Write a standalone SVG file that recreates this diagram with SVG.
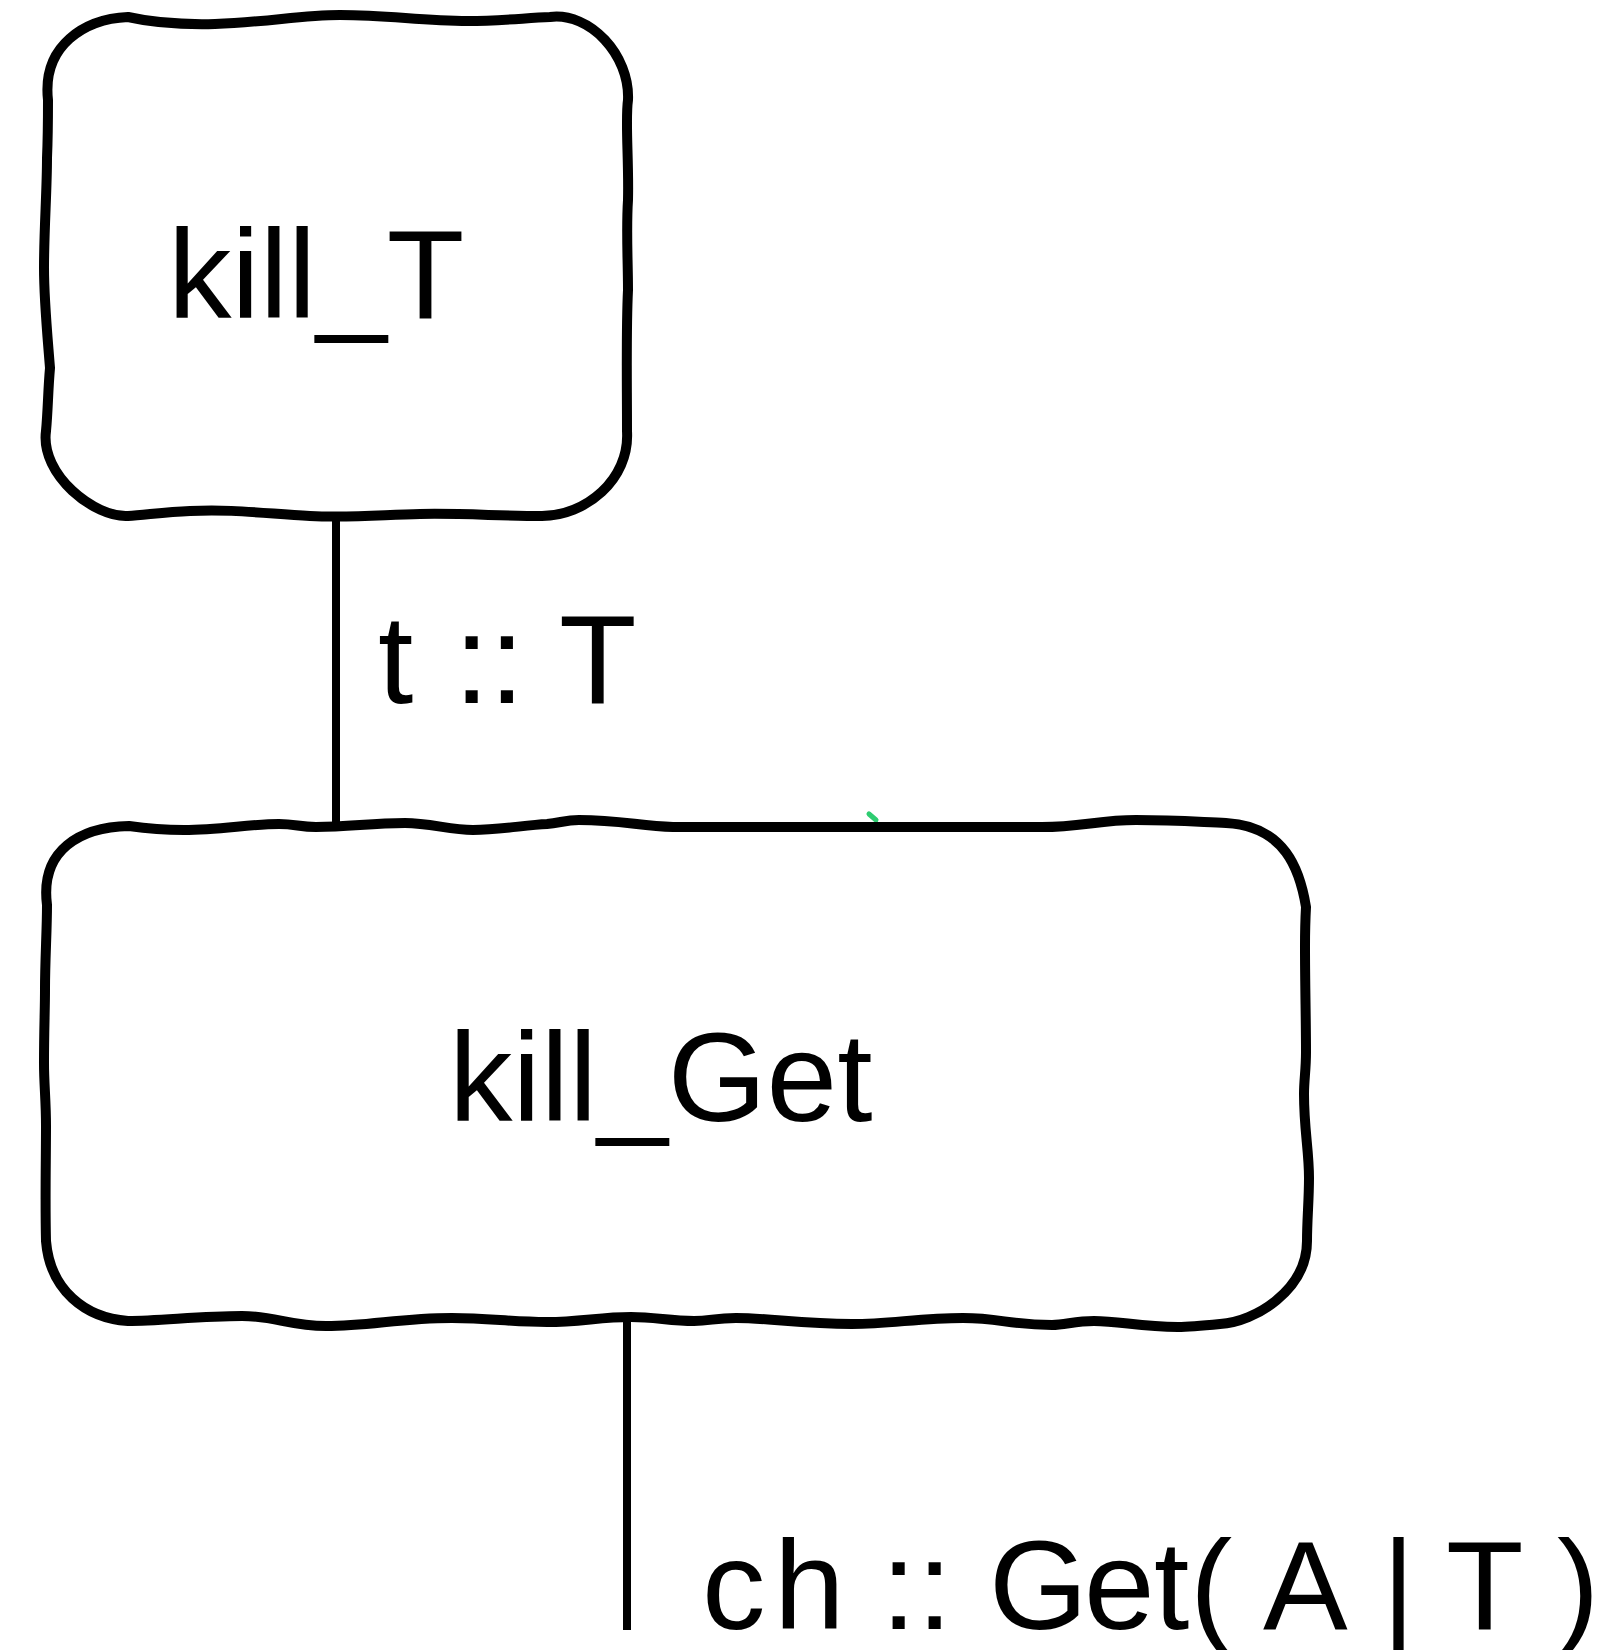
<svg xmlns="http://www.w3.org/2000/svg" width="1615" height="1650" viewBox="0 0 1615 1650">
<style>
.box{fill:#ffffff;stroke:#000000;stroke-width:10;stroke-linejoin:round;stroke-linecap:round}
.edge{stroke:#000000;stroke-width:8;fill:none}
.lbl{font-family:"Liberation Sans",Arial,Helvetica,sans-serif;font-size:127px;fill:#000000}
</style>
<rect width="1615" height="1650" fill="#ffffff"/>
<g id="connectors">
<line class="edge" x1="336" y1="510" x2="336" y2="828"/>
<line class="edge" x1="627" y1="1318" x2="627" y2="1630"/>
<line x1="869" y1="814" x2="876" y2="820" stroke="#2ecc71" stroke-width="5" stroke-linecap="round"/>
<text class="lbl" x="378" y="703">t <tspan x="454">:: </tspan><tspan x="559">T</tspan></text>
<text class="lbl" x="702 774 844 881 917 952 989 1084 1154 1190 1232 1263 1348 1382 1415 1446 1524 1557" y="1629">ch :: Get( A | T )</text>
</g>
<g id="kill_T">
<path class="box" d="M48,100 C42,45 85,19 128,17 C150,22 175,25 215,24 C270,22 300,15 340,15 C390,15 420,21 468,21 C500,21 525,18 550,17 C590,12 630,55 628,100 C625,120 629,160 628,200 C626,230 628,260 628,290 C626,330 627,380 627,431 C630,480 585,516 542,516 C500,516 460,513 420,514 C380,515 350,518 310,516 C260,513 230,509 190,511 C165,512 145,515 128,516 C95,518 40,475 46,431 C48,410 48,390 50,368 C47,330 44,300 44,268 C44,230 47,190 47,158 C48,135 48,115 48,100 Z"/>
<text class="lbl" x="168" y="318">kill_T</text>
</g>
<g id="kill_Get">
<path class="box" d="M47,905 C40,850 80,827 129,826 C150,829 165,830 184,830 C220,830 250,824 279,824 C295,824 300,827 316,827 C350,827 370,823 405,823 C430,823 450,830 473,830 C500,830 525,825 547,824 C560,823 565,820 579,820 C620,820 640,826 673,827 L1042,827 C1080,827 1100,820 1136,820 C1175,820 1200,822 1226,823 C1285,826 1300,870 1306,907 C1305,925 1305,935 1305,947 C1305,985 1306,1020 1306,1052 C1306,1070 1304,1080 1304,1094 C1304,1130 1309,1150 1309,1178 C1309,1200 1307,1220 1307,1241 C1307,1290 1255,1322 1220,1324 C1200,1326 1190,1327 1178,1327 C1140,1327 1120,1321 1094,1321 C1075,1321 1065,1325 1052,1325 C1010,1325 1000,1318 963,1318 C920,1318 890,1324 852,1324 C800,1324 770,1318 736,1318 C715,1318 710,1321 694,1321 C670,1321 655,1317 631,1317 C600,1317 580,1322 547,1322 C510,1322 490,1318 452,1318 C400,1318 370,1326 326,1326 C290,1326 275,1316 242,1316 C200,1316 160,1321 128,1321 C85,1318 50,1290 46,1241 C45,1200 46,1160 46,1126 C46,1100 44,1085 44,1063 C44,1030 45,1010 45,989 C45,960 47,930 47,905 Z"/>
<text class="lbl" x="449" y="1121">kill_Get</text>
</g>
</svg>
